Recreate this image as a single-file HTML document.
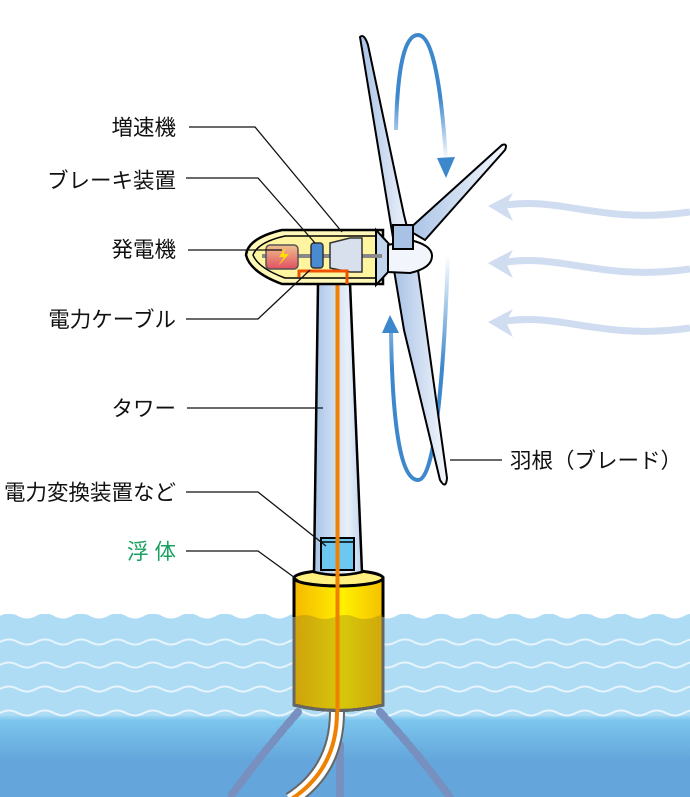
<!DOCTYPE html>
<html><head><meta charset="utf-8"><style>
html,body{margin:0;padding:0;background:#fff;}
svg{display:block;}
text{font-family:"Liberation Sans","Noto Sans CJK JP",sans-serif;font-size:21.5px;fill:#111;}
</style></head><body>
<svg width="690" height="797" viewBox="0 0 690 797" xmlns="http://www.w3.org/2000/svg">
<defs>
<linearGradient id="sea" x1="0" y1="0" x2="0" y2="1">
<stop offset="0" stop-color="#aedcf5"/><stop offset="0.55" stop-color="#aedcf5"/>
<stop offset="0.58" stop-color="#7cc6ee"/><stop offset="0.8" stop-color="#64a6db"/><stop offset="1" stop-color="#64a6db"/>
</linearGradient>
<linearGradient id="tower" x1="0" y1="0" x2="1" y2="0">
<stop offset="0" stop-color="#a8c4e8"/><stop offset="0.7" stop-color="#e8f0fa"/><stop offset="1" stop-color="#c0d4ee"/>
</linearGradient>
<linearGradient id="float" x1="0" y1="0" x2="1" y2="0">
<stop offset="0" stop-color="#f5b800"/><stop offset="0.55" stop-color="#fff000"/><stop offset="1" stop-color="#f5c000"/>
</linearGradient>
<linearGradient id="blade" x1="0" y1="0" x2="1" y2="0">
<stop offset="0" stop-color="#a8c2e6"/><stop offset="1" stop-color="#f4f7fc"/>
</linearGradient>
<linearGradient id="gen" x1="0" y1="0" x2="0" y2="1">
<stop offset="0" stop-color="#f0c090"/><stop offset="1" stop-color="#e05060"/>
</linearGradient>
<linearGradient id="rotTop" x1="0" y1="1" x2="0" y2="0">
<stop offset="0" stop-color="#3d87cc" stop-opacity="0"/><stop offset="0.5" stop-color="#3d87cc"/>
</linearGradient>
<linearGradient id="rotBot" x1="0" y1="0" x2="0" y2="1">
<stop offset="0" stop-color="#3d87cc" stop-opacity="0"/><stop offset="0.5" stop-color="#3d87cc"/>
</linearGradient>
</defs>

<rect x="0" y="614" width="690" height="183" fill="url(#sea)"/>
<path d="M0 616 q9 -5 18 0 t18 0 t18 0 t18 0 t18 0 t18 0 t18 0 t18 0 t18 0 t18 0 t18 0 t18 0 t18 0 t18 0 t18 0 t18 0 t18 0 t18 0 t18 0 t18 0 t18 0 t18 0 t18 0 t18 0 t18 0 t18 0 t18 0 t18 0 t18 0 t18 0 t18 0 t18 0 t18 0 t18 0 t18 0 t18 0 t18 0 t18 0 t18 0 L690 610 L0 610Z" fill="#fff"/>
<g fill="none" stroke="#e6f4fc" stroke-width="2">
<path d="M0 642 q9 -5 18 0 t18 0 t18 0 t18 0 t18 0 t18 0 t18 0 t18 0 t18 0 t18 0 t18 0 t18 0 t18 0 t18 0 t18 0 t18 0 t18 0 t18 0 t18 0 t18 0 t18 0 t18 0 t18 0 t18 0 t18 0 t18 0 t18 0 t18 0 t18 0 t18 0 t18 0 t18 0 t18 0 t18 0 t18 0 t18 0 t18 0 t18 0 t18 0"/>
<path d="M0 665 q9 -5 18 0 t18 0 t18 0 t18 0 t18 0 t18 0 t18 0 t18 0 t18 0 t18 0 t18 0 t18 0 t18 0 t18 0 t18 0 t18 0 t18 0 t18 0 t18 0 t18 0 t18 0 t18 0 t18 0 t18 0 t18 0 t18 0 t18 0 t18 0 t18 0 t18 0 t18 0 t18 0 t18 0 t18 0 t18 0 t18 0 t18 0 t18 0 t18 0"/>
<path d="M0 689 q9 -5 18 0 t18 0 t18 0 t18 0 t18 0 t18 0 t18 0 t18 0 t18 0 t18 0 t18 0 t18 0 t18 0 t18 0 t18 0 t18 0 t18 0 t18 0 t18 0 t18 0 t18 0 t18 0 t18 0 t18 0 t18 0 t18 0 t18 0 t18 0 t18 0 t18 0 t18 0 t18 0 t18 0 t18 0 t18 0 t18 0 t18 0 t18 0 t18 0"/>
<path d="M0 713 q9 -5 18 0 t18 0 t18 0 t18 0 t18 0 t18 0 t18 0 t18 0 t18 0 t18 0 t18 0 t18 0 t18 0 t18 0 t18 0 t18 0 t18 0 t18 0 t18 0 t18 0 t18 0 t18 0 t18 0 t18 0 t18 0 t18 0 t18 0 t18 0 t18 0 t18 0 t18 0 t18 0 t18 0 t18 0 t18 0 t18 0 t18 0 t18 0 t18 0"/>
</g>

<g stroke="#7790c0" stroke-width="8" stroke-dasharray="7 4" stroke-linecap="round" fill="none">
<path d="M298 712 Q265 750 230 797"/>
<path d="M380 712 Q415 750 450 797"/>
<path d="M340 745 L340 797"/>
</g>
<path d="M337 712 Q337 770 290 800" fill="none" stroke="#666" stroke-width="16"/>
<path d="M337 712 Q337 770 290 800" fill="none" stroke="#fff" stroke-width="12"/>
<path d="M337 712 Q337 770 290 800" fill="none" stroke="#f08000" stroke-width="4"/>

<path d="M294 578 L294 705 Q338 716 383 705 L383 578 Z" fill="url(#float)" stroke="#000" stroke-width="3"/>
<ellipse cx="338.5" cy="578" rx="44.5" ry="8" fill="#fff080" stroke="#000" stroke-width="3"/>
<path d="M295 617 q10 -4 20 0 t20 0 t20 0 t20 0 t8 0 L382 705 Q338 716 295 705Z" fill="#8a7a20" opacity="0.35"/>
<path d="M294 617 L294 705 Q338 716 383 705 L383 617" fill="none" stroke="#666" stroke-width="3"/>

<path d="M318 283 L350 283 L362 572 Q338 578 314 572 Z" fill="url(#tower)" stroke="#000" stroke-width="2.5"/>
<rect x="321" y="538" width="33" height="32" fill="#6cc8f0" stroke="#000" stroke-width="2"/>
<line x1="321" y1="542" x2="354" y2="542" stroke="#000" stroke-width="1.5"/>
<line x1="337.5" y1="283" x2="337.5" y2="712" stroke="#f08000" stroke-width="4"/>

<path d="M396 130 Q398 35 418 35 Q438 35 446 160" fill="none" stroke="url(#rotTop)" stroke-width="4"/>
<path d="M437 158 L446 178 L455 157 Z" fill="#3d87cc"/>
<path d="M391 330 Q393 480 418 480 Q440 480 448 255" fill="none" stroke="url(#rotBot)" stroke-width="4"/>
<path d="M382 333 L390 315 L399 333 Z" fill="#3d87cc"/>

<g fill="none" stroke="#d0dcf0" stroke-width="7">
<path d="M500 206 C560 195 600 225 690 212"/>
<path d="M500 263 C560 252 600 282 690 269"/>
<path d="M500 322 C560 311 600 341 690 328"/>
</g>
<g fill="#d0dcf0">
<path d="M488 206 L513 193 L506 206 L513 221Z"/>
<path d="M488 263 L513 250 L506 263 L513 278Z"/>
<path d="M488 322 L513 309 L506 322 L513 337Z"/>
</g>

<path d="M282 230 L383 230 L383 284 L282 284 Q250 272 246 255 Q248 238 282 230Z" fill="#fff8b8" stroke="#000" stroke-width="2.5"/>
<path d="M285 236 L380 236 L380 278 L285 278 Q258 268 253 255 Q258 242 285 236Z" fill="#fff4a0" stroke="#000" stroke-width="1.5"/>
<path d="M376 230 L390 245 L390 270 L376 285 Z" fill="#c0d4ee" stroke="#000" stroke-width="2"/>
<line x1="262" y1="256" x2="382" y2="256" stroke="#888" stroke-width="4"/>
<rect x="266" y="245" width="32" height="24" rx="4" fill="url(#gen)" stroke="#555" stroke-width="1.5"/>
<path d="M285 248 L279 257 L284 257 L278 266 L289 254 L284 254 Z" fill="#ffe000"/>
<rect x="311" y="243" width="12" height="25" rx="3" fill="#4a8ad0" stroke="#333" stroke-width="1.5"/>
<path d="M330 243 L350 238 L362 238 L362 272 L350 272 L330 268Z" fill="#d8e0ee" stroke="#333" stroke-width="1.5"/>
<path d="M299 277 L299 271 L347 271 L347 284" fill="none" stroke="#f05000" stroke-width="3"/>

<path d="M395 250 L360 37 Q364 33 368 45 L404 215 L412 247 Z" fill="url(#blade)" stroke="#000" stroke-width="2"/>
<path d="M408 230 L502 145 Q508 143 505 150 L425 240 Z" fill="url(#blade)" stroke="#000" stroke-width="2"/>
<path d="M394 270 L404 330 L440 480 Q446 490 447 478 L418 270 Z" fill="url(#blade)" stroke="#000" stroke-width="2"/>
<path d="M388 245 L410 240 Q432 245 432 256 Q432 268 410 273 L388 272 Z" fill="#f2f6fc" stroke="#000" stroke-width="2"/>
<rect x="393" y="225" width="20" height="24" fill="#a8c2e6" stroke="#000" stroke-width="2"/>

<g fill="none" stroke="#111" stroke-width="1.3">
<polyline points="189,127 255,127 342,232"/>
<polyline points="186,178 258,178 315,243"/>
<polyline points="188,250 282,250"/>
<polyline points="186,319 258,319 310,270"/>
<polyline points="187,408 323,408"/>
<polyline points="186,492 258,492 326,546"/>
<polyline points="186,551 258,551 302,583"/>
<polyline points="450,460 502,460"/>
</g>

<g text-anchor="end">
<text x="176" y="135">増速機</text>
<text x="176" y="188">ブレーキ装置</text>
<text x="176" y="257">発電機</text>
<text x="176" y="327">電力ケーブル</text>
<text x="176" y="416">タワー</text>
<text x="176" y="500">電力変換装置など</text>
<text x="176" y="559" style="fill:#1aa060">浮 体</text>
</g>
<text x="510" y="468">羽根（ブレード）</text>
</svg>
</body></html>
